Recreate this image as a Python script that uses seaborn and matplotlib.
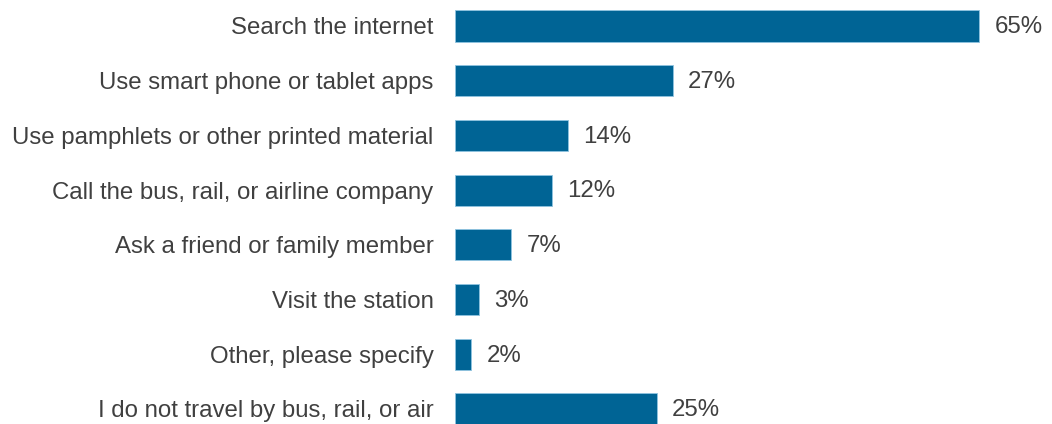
import matplotlib
matplotlib.use("Agg")
import matplotlib.pyplot as plt
import seaborn as sns
import pandas as pd

categories = [
    "Search the internet",
    "Use smart phone or tablet apps",
    "Use pamphlets or other printed material",
    "Call the bus, rail, or airline company",
    "Ask a friend or family member",
    "Visit the station",
    "Other, please specify",
    "I do not travel by bus, rail, or air",
]
values = [65, 27, 14, 12, 7, 3, 2, 25]

df = pd.DataFrame({"category": categories, "value": values})

sns.set_theme(style="white")
plt.rcParams["font.family"] = ["Liberation Sans", "DejaVu Sans"]

W, H = 1052, 424
fig = plt.figure(figsize=(W / 100, H / 100), dpi=100)
left_px = 455
ax = fig.add_axes([left_px / W, 0, 1 - left_px / W, 1])

bar_color = "#006495"
text_color = "#404040"
fs = 17.3

sns.barplot(data=df, x="value", y="category", orient="h", color=bar_color,
            width=0.57, edgecolor="#8fc3e0", linewidth=0.6, saturation=1,
            ax=ax)

px_per_unit = (979 - left_px) / 65
ax.set_xlim(0, (W - left_px) / px_per_unit)
spacing = 54.7
top_center = 26
ax.set_ylim((H - top_center) / spacing, -top_center / spacing)

ax.set_xlabel("")
ax.set_ylabel("")
ax.set_xticks([])
ax.tick_params(axis="y", length=0, pad=15.5, labelsize=fs, labelcolor=text_color)
for s in ax.spines.values():
    s.set_visible(False)

for i, v in enumerate(values):
    ax.annotate(f"{v}%", xy=(v, i), xytext=(11, -1), textcoords="offset points",
                ha="left", va="center", fontsize=fs, color=text_color)

fig.savefig("out.png", dpi=100)
